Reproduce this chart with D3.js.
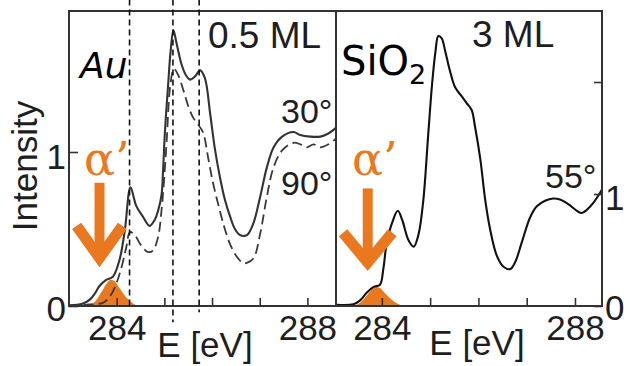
<!DOCTYPE html>
<html><head><meta charset="utf-8">
<script src="https://cdn.jsdelivr.net/npm/d3@7"></script>
<style>
body{margin:0;background:#fff}
svg{display:block}
</style>
</head><body>
<svg id="c" width="630" height="366"></svg>
<script>
// ---- data ----
const xTicks = [284, 285, 286, 287, 288];
const xTickLabels = ["284", "", "", "", "288"];
const yTicksLeft = [0, 1];
const yTickLabelsLeft = ["0", "1"];
const yTicksRight = [0, 1, 2];
const yTickLabelsRight = ["0", "1", ""];

// Left panel: Au, 0.5 ML
const e30 = [282.99,283.28,283.43,283.54,283.64,283.78,283.92,284.06,284.17,284.29,284.41,284.55,284.69,284.80,284.87,284.94,284.97,285.01,285.08,285.13,285.19,285.26,285.36,285.45,285.54,285.64,285.75,285.85,285.96,286.06,286.17,286.27,286.38,286.48,286.59,286.73,286.87,287.01,287.15,287.29,287.47,287.71,287.85,288.06,288.27,288.44,288.61];
const i30 = [0.005,0.015,0.04,0.08,0.13,0.17,0.19,0.30,0.49,0.77,0.65,0.58,0.52,0.56,0.62,0.72,0.86,1.12,1.44,1.65,1.79,1.70,1.57,1.50,1.47,1.49,1.53,1.48,1.25,1.02,0.83,0.69,0.58,0.50,0.46,0.46,0.54,0.71,0.90,1.03,1.10,1.13,1.11,1.10,1.10,1.12,1.16];
const e90 = [282.99,283.43,283.71,283.85,283.96,284.10,284.20,284.28,284.38,284.52,284.66,284.76,284.87,284.94,284.99,285.05,285.12,285.20,285.29,285.40,285.51,285.61,285.75,285.82,285.92,286.02,286.13,286.25,286.38,286.52,286.65,286.73,286.87,287.01,287.15,287.29,287.47,287.71,287.85,287.99,288.13,288.27,288.44,288.61];
const i90 = [0.0,0.01,0.02,0.06,0.12,0.25,0.38,0.48,0.46,0.39,0.35,0.36,0.45,0.62,0.80,1.08,1.42,1.54,1.50,1.40,1.29,1.22,1.16,1.12,0.96,0.80,0.66,0.52,0.40,0.32,0.28,0.28,0.31,0.47,0.71,0.90,1.01,1.06,1.05,1.03,1.05,1.03,1.05,1.09];

// Right panel: SiO2, 3 ML
const e55 = [283.07,283.41,283.55,283.69,283.83,283.96,284.03,284.10,284.21,284.33,284.42,284.55,284.66,284.76,284.86,284.96,285.04,285.11,285.17,285.24,285.31,285.41,285.52,285.66,285.76,285.86,285.93,286.04,286.14,286.24,286.38,286.52,286.66,286.76,286.90,287.07,287.21,287.38,287.55,287.69,287.86,288.04,288.14,288.25,288.38,288.52,288.56];
const i55 = [0.01,0.015,0.05,0.12,0.17,0.19,0.33,0.56,0.74,0.85,0.77,0.59,0.53,0.64,0.95,1.53,1.98,2.27,2.41,2.39,2.28,2.10,1.95,1.87,1.81,1.75,1.60,1.31,0.95,0.69,0.45,0.35,0.33,0.39,0.57,0.79,0.89,0.94,0.96,0.95,0.91,0.85,0.83,0.86,0.92,1.01,1.04];

// alpha' component (orange filled peak)
const alphaE = [283.40,283.50,283.60,283.70,283.80,283.88,283.96,284.05,284.15,284.25,284.35,284.45];
const alphaI = [0,0.015,0.05,0.10,0.15,0.17,0.16,0.12,0.075,0.04,0.015,0];

// vertical reference lines in left panel (eV) and how far below 0 they reach
const refE = [284.27, 285.18, 285.73];
const refEnd = [0, -0.105, -0.04];

// ---- drawing ----
const ORANGE = "#e9781f";
const SANS = '"Liberation Sans", Arial, sans-serif';
const TXT = "#1e1e1e";
const svg = d3.select("#c");
const xL = d3.scaleLinear().domain([283, 288.6]).range([69, 336]);
const yL = d3.scaleLinear().domain([0, 1]).range([306, 152]);
const xR = d3.scaleLinear().domain([283.05, 288.56]).range([336, 602]);
const yR = d3.scaleLinear().domain([0, 1]).range([306, 194]);
const TOP = 11;

const defs = svg.append("defs");
defs.append("clipPath").attr("id","clipL").append("rect")
  .attr("x",69).attr("y",TOP).attr("width",267).attr("height",306-TOP);
defs.append("clipPath").attr("id","clipR").append("rect")
  .attr("x",336).attr("y",TOP).attr("width",266).attr("height",306-TOP);

function arrow(g, x, y, cx, yTop, yTip, yArm, dxArm){
  const px = x(cx), pTip = y(yTip);
  const pl = x(cx - dxArm), pr = x(cx + dxArm), pa = y(yArm);
  const dx = px - pl, dy = pTip - pa;
  const ext = 5.5 / Math.sin(Math.atan(dx/dy));
  g.append("path").attr("d", `M${px},${y(yTop)}L${px},${pTip-ext}`)
    .attr("stroke", ORANGE).attr("stroke-width", 10).attr("fill","none");
  g.append("path").attr("d", `M${pl},${pa}L${px},${pTip-ext}L${pr},${pa}`)
    .attr("stroke", ORANGE).attr("stroke-width", 11).attr("fill","none")
    .attr("stroke-linejoin","miter");
}

function panel(x, y, clipId, series, alphaArrow){
  const g = svg.append("g");
  const gc = g.append("g").attr("clip-path", `url(#${clipId})`);
  const area = d3.area().x((d,i)=>x(alphaE[i])).y0(y(0)).y1(d=>y(d)).curve(d3.curveMonotoneX);
  gc.append("path").attr("d", area(alphaI)).attr("fill", ORANGE);
  arrow(g, x, y, ...alphaArrow);
  series.forEach(s=>{
    const line = d3.line().x((d,i)=>x(s.e[i])).y(d=>y(d)).curve(d3.curveCatmullRom.alpha(0.5));
    gc.append("path").attr("d", line(s.v)).attr("fill","none")
      .attr("stroke", s.color).attr("stroke-width", s.w)
      .attr("stroke-dasharray", s.dash || null).attr("stroke-linejoin","round");
  });
  return g;
}

// Left panel
panel(xL, yL, "clipL", [
  {e:e90, v:i90, color:"#3a3a3a", w:1.8, dash:"10,5"},
  {e:e30, v:i30, color:"#333", w:2.1}
], [283.64, 0.80, 0.235, 0.52, 0.48]);

// Right panel
panel(xR, yR, "clipR", [
  {e:e55, v:i55, color:"#111", w:2.1}
], [283.707, 1.05, 0.295, 0.655, 0.51]);

// frames
svg.append("rect").attr("x",69).attr("y",TOP).attr("width",267).attr("height",306-TOP)
  .attr("fill","none").attr("stroke","#333").attr("stroke-width",2);
svg.append("rect").attr("x",336).attr("y",TOP).attr("width",266).attr("height",306-TOP)
  .attr("fill","none").attr("stroke","#333").attr("stroke-width",2);

// reference dashed lines
svg.append("g").selectAll("line").data(refE).join("line")
  .attr("x1",d=>xL(d)).attr("x2",d=>xL(d))
  .attr("y1",yL(1.99)).attr("y2",(d,i)=>yL(refEnd[i]))
  .attr("stroke","#111").attr("stroke-width",1.6).attr("stroke-dasharray","6,4");

// axes
function styleAxis(g){
  g.select(".domain").remove();
  g.selectAll(".tick line").attr("stroke","#333").attr("stroke-width",1.6);
  g.selectAll(".tick text").attr("font-size",35).attr("fill",TXT).attr("font-family",SANS);
}
const axBL = svg.append("g").attr("transform","translate(0,306)")
  .call(d3.axisBottom(xL).tickValues(xTicks).tickSizeInner(-8).tickSizeOuter(0)
    .tickFormat((d,i)=>xTickLabels[i]));
styleAxis(axBL); axBL.selectAll(".tick text").attr("y",34).attr("dy",0);
const axBR = svg.append("g").attr("transform","translate(0,306)")
  .call(d3.axisBottom(xR).tickValues(xTicks).tickSizeInner(-8).tickSizeOuter(0)
    .tickFormat((d,i)=>xTickLabels[i]));
styleAxis(axBR); axBR.selectAll(".tick text").attr("y",34).attr("dy",0);

const axL = svg.append("g").attr("transform","translate(69,0)")
  .call(d3.axisLeft(yL).tickValues(yTicksLeft).tickSizeInner(-9).tickSizeOuter(0).tickPadding(3)
    .tickFormat((d,i)=>yTickLabelsLeft[i]));
styleAxis(axL); axL.selectAll(".tick text").attr("dy",0).attr("y",(d)=> d===0?14:16);

const axR = svg.append("g").attr("transform","translate(602,0)")
  .call(d3.axisRight(yR).tickValues(yTicksRight).tickSizeInner(-8).tickSizeOuter(0).tickPadding(3)
    .tickFormat((d,i)=>yTickLabelsRight[i]));
styleAxis(axR); axR.selectAll(".tick text").attr("dy",0).attr("y",(d)=> d===0?13:15);

function label(x, y, size, txt, opts){
  opts = opts || {};
  return svg.append("text").attr("x",x).attr("y",y).attr("font-size",size)
    .attr("font-family",opts.family || SANS).attr("fill",opts.fill || TXT)
    .attr("font-style",opts.style || null).attr("text-anchor",opts.anchor || null)
    .text(txt);
}

// axis titles
svg.append("text").attr("transform","translate(37,166) rotate(-90)")
  .attr("text-anchor","middle").attr("font-size",35).attr("font-family",SANS).attr("fill",TXT)
  .text("Intensity");
label(205, 357, 35, "E [eV]", {anchor:"middle"});
label(477, 355, 35, "E [eV]", {anchor:"middle"});

// labels
label(208, 48, 37, "0.5 ML");
label(472, 47, 37, "3 ML");
label(281, 123, 34, "30°");
label(281, 195, 34, "90°");
label(545, 188, 34, "55°");
label(80, 78, 36, "Au", {family:'"DejaVu Sans", sans-serif', style:"italic", fill:"#000"});
const si = label(341, 75, 40, "", {family:'"DejaVu Sans", sans-serif', fill:"#000"});
si.append("tspan").text("SiO");
si.append("tspan").attr("font-size",27).attr("dy",9).text("2");

// alpha' labels
[[84,175],[352,175]].forEach(p=>{
  label(p[0], p[1], 46, "α’", {family:'"DejaVu Serif", serif', fill:ORANGE});
});
</script>
</body></html>
